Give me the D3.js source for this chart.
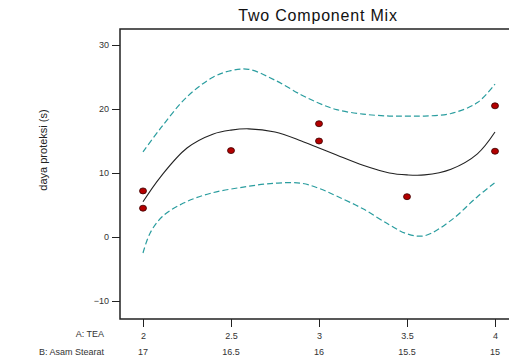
<!DOCTYPE html>
<html>
<head>
<meta charset="utf-8">
<script src="https://cdn.jsdelivr.net/npm/d3@7/dist/d3.min.js"></script>
<style>
  body { margin: 0; background: #fff; }
  svg { display: block; font-family: Arial, "Liberation Sans", sans-serif; }
</style>
</head>
<body>
<div id="chart"></div>
<script>
// observed runs
const pointsTEA = [2, 2, 2.5, 3, 3, 3.5, 4, 4]
const pointsY = [7.2, 4.5, 13.5, 17.7, 15.0, 6.3, 20.5, 13.4]

// fitted curve and 95% band
const curveX = [2, 2.1, 2.25, 2.4, 2.5, 2.6, 2.75, 2.9, 3, 3.1, 3.25, 3.4, 3.5, 3.6, 3.75, 3.9, 4]
const fitY   = [5.5, 9.4, 13.9, 16.1, 16.7, 16.9, 16.4, 15.0, 13.9, 12.8, 11.2, 10.0, 9.7, 9.7, 10.6, 13.0, 16.4]
const upperY = [13.3, 17.0, 21.9, 25.0, 26.0, 26.2, 24.5, 22.2, 20.9, 19.9, 19.2, 18.9, 18.9, 18.9, 19.3, 21.0, 23.9]
const lowerX = [2, 2.04, 2.11, 2.23, 2.38, 2.57, 2.75, 2.9, 3, 3.1, 3.25, 3.4, 3.5, 3.6, 3.75, 3.9, 4]
const lowerY = [-2.5, 0.6, 3.2, 5.3, 6.8, 7.8, 8.4, 8.4, 7.6, 6.4, 4.4, 1.9, 0.5, 0.2, 2.6, 6.3, 8.5]

const teaTicks = [2, 2.5, 3, 3.5, 4]
const stearatLabels = ['17', '16.5', '16', '15.5', '15']
const yTicks = [-10, 0, 10, 20, 30]

const width = 509
const height = 358

const svg = d3.select('#chart').append('svg')
  .attr('width', width)
  .attr('height', height)

const x = d3.scaleLinear().domain([2, 4]).range([143, 495])
const y = d3.scaleLinear().domain([-10, 30]).range([301, 45])

const plotLeft = 120, plotTop = 29, plotBottom = 319

// title
svg.append('text')
  .attr('x', 318).attr('y', 21)
  .attr('text-anchor', 'middle')
  .attr('font-size', 16)
  .attr('letter-spacing', 0.8)
  .attr('fill', '#111')
  .text('Two Component Mix')

// frame (right side is off-canvas)
svg.append('path')
  .attr('d', `M${width + 5},${plotTop}H${plotLeft}V${plotBottom}H${width + 5}`)
  .attr('fill', 'none')
  .attr('stroke', '#222')
  .attr('stroke-width', 1.5)

// y axis ticks
const yAxis = d3.axisLeft(y).tickValues(yTicks).tickSize(8).tickPadding(3)
svg.append('g')
  .attr('transform', `translate(${plotLeft},0)`)
  .call(yAxis)
  .call(g => g.select('.domain').remove())
  .call(g => g.selectAll('line').attr('stroke', '#222'))
  .call(g => g.selectAll('text').attr('font-size', 9).attr('fill', '#333').attr('font-family', 'Arial, sans-serif'))

// x axis ticks
const xAxis = d3.axisBottom(x).tickValues(teaTicks).tickSize(8).tickPadding(6).tickFormat(d3.format('~g'))
svg.append('g')
  .attr('transform', `translate(0,${plotBottom})`)
  .call(xAxis)
  .call(g => g.select('.domain').remove())
  .call(g => g.selectAll('line').attr('stroke', '#222'))
  .call(g => g.selectAll('text').attr('font-size', 9).attr('fill', '#333').attr('font-family', 'Arial, sans-serif'))

// second row of x labels
svg.append('g')
  .selectAll('text')
  .data(teaTicks)
  .enter()
  .append('text')
  .attr('x', d => x(d))
  .attr('y', 355)
  .attr('text-anchor', 'middle')
  .attr('font-size', 9)
  .attr('fill', '#333')
  .text((d, i) => stearatLabels[i])

svg.append('text')
  .attr('x', 104).attr('y', 337)
  .attr('text-anchor', 'end')
  .attr('font-size', 9).attr('fill', '#333')
  .text('A: TEA')

svg.append('text')
  .attr('x', 104).attr('y', 355)
  .attr('text-anchor', 'end')
  .attr('font-size', 9).attr('fill', '#333')
  .text('B: Asam Stearat')

// y label
svg.append('text')
  .attr('transform', 'translate(47,150) rotate(-90)')
  .attr('text-anchor', 'middle')
  .attr('font-size', 11)
  .attr('fill', '#222')
  .text('daya proteksi (s)')

// curves
const line = (xs, vals) => d3.line()
  .x((d, i) => x(xs[i]))
  .y(d => y(d))
  .curve(d3.curveCatmullRom)(vals)

svg.append('path')
  .attr('d', line(curveX, upperY))
  .attr('fill', 'none')
  .attr('stroke', '#2a9d9f')
  .attr('stroke-width', 1.2)
  .attr('stroke-dasharray', '6,3')

svg.append('path')
  .attr('d', line(lowerX, lowerY))
  .attr('fill', 'none')
  .attr('stroke', '#2a9d9f')
  .attr('stroke-width', 1.2)
  .attr('stroke-dasharray', '6,3')

svg.append('path')
  .attr('d', line(curveX, fitY))
  .attr('fill', 'none')
  .attr('stroke', '#222')
  .attr('stroke-width', 1.1)

// design points
svg.append('g')
  .selectAll('ellipse')
  .data(pointsY)
  .enter()
  .append('ellipse')
  .attr('cx', (d, i) => x(pointsTEA[i]))
  .attr('cy', d => y(d))
  .attr('rx', 3.5)
  .attr('ry', 3)
  .attr('fill', '#b30000')
  .attr('stroke', '#3a0000')
  .attr('stroke-width', 0.8)
</script>
</body>
</html>
